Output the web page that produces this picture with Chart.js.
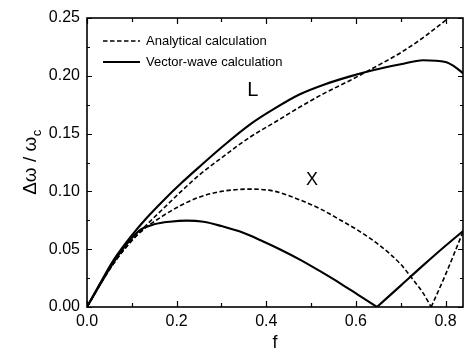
<!DOCTYPE html>
<html lang="en">
<head>
<meta charset="UTF-8" />
<title>Δω / ωc vs f</title>
<script src="https://cdn.jsdelivr.net/npm/chart.js"></script>
<style>
  html, body { margin: 0; padding: 0; background: #fff; }
</style>
</head>
<body>
<canvas id="plot" width="464" height="354"></canvas>
<script>
  // analytical calculation, L mode (dashed)
  const fAnaL = [0, 0.03, 0.06, 0.09, 0.12, 0.17, 0.21, 0.25, 0.30, 0.364, 0.42, 0.475, 0.53, 0.587, 0.64, 0.70, 0.75, 0.80, 0.84];
  const wAnaL = [0, 0.020, 0.038, 0.053, 0.066, 0.085, 0.100, 0.114, 0.129, 0.147, 0.160, 0.173, 0.185, 0.196, 0.207, 0.220, 0.233, 0.248, 0.261];

  // analytical calculation, X mode (dashed), two branches around the zero
  const fAnaX1 = [0, 0.03, 0.06, 0.09, 0.12, 0.17, 0.21, 0.25, 0.30, 0.364, 0.42, 0.475, 0.52, 0.565, 0.61, 0.654, 0.70, 0.728, 0.75, 0.768];
  const wAnaX1 = [0, 0.020, 0.038, 0.053, 0.065, 0.079, 0.088, 0.095, 0.100, 0.102, 0.100, 0.0926, 0.085, 0.0753, 0.065, 0.053, 0.037, 0.0234, 0.012, 0];
  const fAnaX2 = [0.768, 0.80, 0.84];
  const wAnaX2 = [0, 0.028, 0.066];

  // vector-wave calculation, L mode (solid)
  const fVecL = [0, 0.03, 0.06, 0.10, 0.133, 0.17, 0.21, 0.25, 0.30, 0.364, 0.42, 0.475, 0.53, 0.587, 0.64, 0.70, 0.75, 0.80, 0.82, 0.84];
  const wVecL = [0, 0.021, 0.041, 0.062, 0.077, 0.092, 0.107, 0.121, 0.138, 0.158, 0.172, 0.184, 0.1925, 0.1995, 0.205, 0.210, 0.2135, 0.212, 0.208, 0.202];

  // vector-wave calculation, X mode (solid)
  const fVecX1 = [0, 0.03, 0.06, 0.09, 0.118, 0.15, 0.185, 0.2225, 0.26, 0.30, 0.35, 0.386, 0.43, 0.475, 0.52, 0.565, 0.605, 0.647];
  const wVecX1 = [0, 0.020, 0.039, 0.055, 0.0665, 0.0715, 0.0738, 0.0747, 0.0737, 0.070, 0.064, 0.058, 0.050, 0.041, 0.031, 0.0205, 0.0105, 0];
  const fVecX2 = [0.647, 0.70, 0.75, 0.80, 0.84];
  const wVecX2 = [0, 0.0185, 0.036, 0.053, 0.066];

  // mode labels written inside the plot
  const modeNames = ['L', 'X'];
  const modeF = [0.37, 0.502];
  const modeW = [0.187, 0.110];

  const FONT = '"Liberation Sans", Arial, sans-serif';
  const DASH = [4.5, 2.5];

  function pts(fs, ws) {
    return fs.map((f, i) => ({ x: f, y: ws[i] }));
  }

  function line(label, fs, ws, dashed) {
    return {
      label: label,
      data: pts(fs, ws),
      borderColor: '#000',
      borderWidth: dashed ? 1.6 : 2.1,
      borderDash: dashed ? DASH : [],
      pointRadius: 0,
      fill: false,
      cubicInterpolationMode: 'monotone'
    };
  }

  // box round the plot with inward ticks on all four sides
  const frameTicks = {
    id: 'frameTicks',
    afterDatasetsDraw(chart) {
      const { ctx, chartArea: a, scales: { x, y } } = chart;
      ctx.save();
      ctx.strokeStyle = '#000';
      ctx.lineWidth = 1.2;
      ctx.beginPath();
      for (let i = 0; i * 0.1 <= x.max + 1e-9; i++) {
        const px = Math.round(x.getPixelForValue(i * 0.1)) + 0.5;
        const len = i % 2 === 0 ? 6 : 4;
        ctx.moveTo(px, a.bottom); ctx.lineTo(px, a.bottom - len);
        ctx.moveTo(px, a.top); ctx.lineTo(px, a.top + len);
      }
      for (let i = 0; i * 0.025 <= y.max + 1e-9; i++) {
        const py = Math.round(y.getPixelForValue(i * 0.025)) + 0.5;
        const len = i % 2 === 0 ? 5 : 3;
        ctx.moveTo(a.left, py); ctx.lineTo(a.left + len, py);
        ctx.moveTo(a.right, py); ctx.lineTo(a.right - len, py);
      }
      ctx.stroke();
      ctx.lineWidth = 1.6;
      ctx.strokeRect(a.left, a.top, a.right - a.left, a.bottom - a.top);
      ctx.restore();
    }
  };

  // legend inside the plot, y title with subscript, and the L / X labels
  const textBits = {
    id: 'textBits',
    afterDraw(chart) {
      const { ctx, chartArea: a, scales: { x, y } } = chart;
      ctx.save();
      ctx.fillStyle = '#000';
      ctx.strokeStyle = '#000';

      // legend
      const items = chart.data.datasets.filter(d => d.label);
      ctx.font = '13px ' + FONT;
      ctx.textBaseline = 'middle';
      ctx.textAlign = 'left';
      items.forEach((d, i) => {
        const yy = a.top + 23 + i * 21;
        ctx.beginPath();
        ctx.lineWidth = d.borderWidth;
        ctx.setLineDash(d.borderDash);
        ctx.moveTo(a.left + 16, yy);
        ctx.lineTo(a.left + 53, yy);
        ctx.stroke();
        ctx.setLineDash([]);
        ctx.fillText(d.label, a.left + 59, yy + 0.5);
      });

      // mode labels
      ctx.textAlign = 'center';
      modeNames.forEach((t, i) => {
        ctx.font = (t === 'L' ? '20px ' : '18px ') + FONT;
        ctx.fillText(t, x.getPixelForValue(modeF[i]), y.getPixelForValue(modeW[i]));
      });

      // y axis title: Δω / ω_c
      const main = 'Δω / ω';
      const sub = 'c';
      ctx.translate(31, (a.top + a.bottom) / 2);
      ctx.rotate(-Math.PI / 2);
      ctx.font = '19px ' + FONT;
      const wMain = ctx.measureText(main).width;
      ctx.font = '13px ' + FONT;
      const wSub = ctx.measureText(sub).width;
      const start = -(wMain + wSub) / 2;
      ctx.textAlign = 'left';
      ctx.font = '19px ' + FONT;
      ctx.fillText(main, start, 0);
      ctx.font = '13px ' + FONT;
      ctx.fillText(sub, start + wMain + 0.5, 6);
      ctx.restore();
    }
  };

  new Chart(document.getElementById('plot'), {
    type: 'line',
    data: {
      datasets: [
        line('Analytical calculation', fAnaL, wAnaL, true),
        line('', fAnaX1, wAnaX1, true),
        line('', fAnaX2, wAnaX2, true),
        line('Vector-wave calculation', fVecL, wVecL, false),
        line('', fVecX1, wVecX1, false),
        line('', fVecX2, wVecX2, false)
      ]
    },
    options: {
      responsive: false,
      animation: false,
      layout: { padding: { top: 18, right: 1, left: 0, bottom: 0 } },
      plugins: {
        legend: { display: false },
        tooltip: { enabled: false }
      },
      scales: {
        x: {
          type: 'linear',
          min: 0,
          max: 0.839,
          grid: { display: false, drawTicks: false },
          border: { display: false },
          ticks: {
            stepSize: 0.2,
            includeBounds: false,
            padding: 5,
            color: '#000',
            font: { family: FONT, size: 16 },
            maxRotation: 0,
            callback: v => v.toFixed(1)
          },
          title: {
            display: true,
            text: 'f',
            color: '#000',
            font: { family: FONT, size: 18 },
            padding: { top: 0, bottom: 0 }
          },
          afterFit: s => { s.height = 47; }
        },
        y: {
          min: 0,
          max: 0.25,
          grid: { display: false, drawTicks: false },
          border: { display: false },
          ticks: {
            stepSize: 0.05,
            padding: 7,
            color: '#000',
            font: { family: FONT, size: 16 },
            callback: v => v.toFixed(2)
          },
          afterFit: s => { s.width = 87; }
        }
      }
    },
    plugins: [frameTicks, textBits]
  });
</script>
</body>
</html>
